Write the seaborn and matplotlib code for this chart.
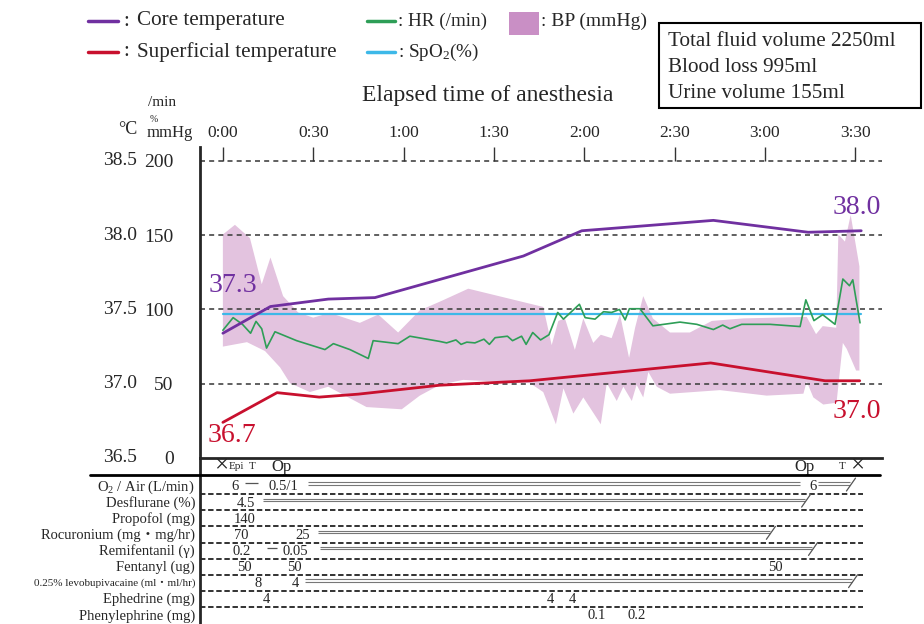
import numpy as np
import matplotlib.pyplot as plt
import matplotlib.transforms as mtransforms
from matplotlib.lines import Line2D
from matplotlib.patches import Rectangle
import seaborn as sns

# ---- data (time in minutes from start of anesthesia) ----
core_t = [0, 15.8, 35, 50.5, 99.8, 119.2, 162.9, 194.4, 212]
core_c = [37.34, 37.52, 37.57, 37.58, 37.86, 38.03, 38.10, 38.02, 38.03]

sup_t = [0, 18, 32, 45, 72, 102, 162, 200, 211.5]
sup_c = [36.74, 36.94, 36.91, 36.93, 36.99, 37.02, 37.14, 37.02, 37.02]

spo2_t = [0, 212]
spo2 = [97, 97]

hr_t = [0, 3.4, 6.5, 9.2, 11, 12.9, 14.5, 17.3, 24.5, 33.9, 36.7, 42.2, 48.3, 49.9,
        58.2, 62.1, 72, 74.3, 77.4, 79.1, 81, 83.7, 86.7, 88.5, 90.4, 94.5, 96.2,
        99.2, 100.7, 102.9, 105.5, 108.3, 111.2, 113.1, 118.4, 120.3, 123.6, 126.4,
        129.1, 131.7, 133.6, 135, 138.5, 142.8, 151.8, 157.4, 162.9, 166, 168.4,
        172.3, 181.7, 191.7, 193.6, 196.3, 199.2, 203.3, 205.9, 208.1, 209.2, 211.6]
hr = [86, 94.5, 90, 84, 92, 87, 74, 85, 79, 73, 77, 73, 67, 79,
      77, 82, 78.5, 77.5, 79.5, 76.5, 78, 77.5, 80, 76.5, 81, 82, 79,
      82, 76.5, 84.5, 79.5, 83, 98, 93.5, 103.5, 94.5, 93.5, 98.5,
      98, 100, 93, 100.5, 100.5, 89, 91.5, 90, 86.5, 89.5, 87,
      90, 90, 88.5, 106.5, 92.5, 96.5, 90, 120.5, 116, 120, 91]

bp_up_t = [0, 4, 9, 12.9, 15.8, 20, 25, 30, 35.5, 45.5, 51.6, 58.2, 65.4, 72.1, 81.5,
           106.4, 109.2, 111.4, 113.6, 116.9, 119.7, 123, 125.5, 129.1, 131.9, 134.9,
           136.9, 139.6, 142.8, 148.5, 155.1, 162.4, 172.9, 193.9, 197, 199.2, 203.7,
           204.4, 206.6, 208.5, 211.4]
bp_up = [150.5, 157, 148, 117, 135, 109, 98, 94.5, 97.7, 91, 96.6, 84.5, 99.4, 105.3, 114,
         101.7, 76, 92.3, 94, 72.8, 94, 77.5, 83, 80.7, 96.6, 67.4,
         87.7, 109, 94, 84.5, 84.5, 92.3, 94, 95, 83.4, 88.8, 87.7,
         150.5, 145.7, 163.6, 129]
bp_lo_t = [0, 8, 14, 19, 22.3, 28.9, 35, 47.7, 59.4, 65.4, 72.1, 79.8, 102, 106.4, 110.6,
           113.1, 116.4, 119.7, 125.5, 127.5, 130.8, 133, 135.8, 137.4, 139.6, 141.3,
           144.1, 148.5, 165.1, 180.6, 192.8, 193.9, 196.1, 199.4, 203.8, 205.9, 207.2,
           210.3, 211.4]
bp_lo = [75, 78, 72, 61, 50.4, 44.4, 48, 34.3, 32.8, 42, 49.3, 52.6, 50.4, 44.4, 22.7,
         46.9, 29.9, 40.8, 22.7, 50.4, 38.4, 48, 38.4, 49.3, 40.8, 57.9,
         48, 43.3, 45.7, 42, 43.3, 51.5, 40.8, 36, 37.2, 77.5, 73.4,
         58.9, 58.9]

time_ticks = [0, 30, 60, 90, 120, 150, 180, 210]
time_labels = ["0:00", "0:30", "1:00", "1:30", "2:00", "2:30", "3:00", "3:30"]
mmhg_ticks = [0, 50, 100, 150, 200]
temp_ticks = [36.5, 37.0, 37.5, 38.0, 38.5]

events = [(-0.5, "×"), (4.5, "Epi"), (9.8, "T"), (19.6, "Op"),
          (193, "Op"), (205.6, "T"), (210.6, "×")]

rows = ["O$_2$ / Air (L/min)", "Desflurane (%)", "Propofol (mg)",
        "Rocuronium (mg・mg/hr)", "Remifentanil (γ)", "Fentanyl (ug)",
        "0.25% levobupivacaine (ml・ml/hr)", "Ephedrine (mg)", "Phenylephrine (mg)"]
doses = [(0, 4, "6"), (0, 20, "0.5/1"), (0, 196, "6"),
         (1, 7.6, "4.5"), (2, 7.3, "140"),
         (3, 6, "70"), (3, 26.6, "25"),
         (4, 6.3, "0.2"), (4, 24, "0.05"),
         (5, 7.3, "50"), (5, 23.6, "50"), (5, 183.4, "50"),
         (6, 11.8, "8"), (6, 24, "4"),
         (7, 14.6, "4"), (7, 108.6, "4"), (7, 116, "4"),
         (8, 124.3, "0.1"), (8, 137.5, "0.2")]
# continuous administration: row, start, end, stopped
infusions = [(0, 28.2, 191.7, False), (0, 197.7, 208.3, True), (1, 13.3, 193.4, True),
             (3, 31.6, 181.7, True), (4, 32.2, 195.7, True), (6, 27.2, 209, True)]
changes = [(0, 7.3, 11.6), (4, 14.6, 18)]

purple = "#7030a0"
red = "#c8102e"
green = "#2e9e57"
blue = "#3db8e8"
pink = "#e3c3df"

sns.set_style("white")
plt.rcParams["font.family"] = ["Liberation Serif", "Noto Sans CJK JP"]
plt.rcParams["mathtext.default"] = "regular"

W, H = 924, 624
fig = plt.figure(figsize=(W / 100, H / 100), dpi=100)


def fx(x):
    return x / W


def fy(y):
    return 1 - y / H


xlim = (-7.6, 218.9)

# ---- drug table (drawn first so the chart's bottom line sits on top) ----
ax2 = fig.add_axes([fx(200), 0, fx(882) - fx(200), fy(458)])
ax2.set_facecolor("none")
ax2.set_xlim(*xlim)
ax2.set_ylim(8.51, -1.80)
for s in ["top", "right", "bottom"]:
    ax2.spines[s].set_visible(False)
ax2.spines["left"].set_linewidth(2)
ax2.set_xticks([])
ax2.set_yticks([])

ax2.hlines([r + 0.45 for r in range(len(rows) - 1)], xlim[0], 212.6, colors="#222222",
           linestyles=(0, (3, 1.5)), lw=1.3)

trans2 = mtransforms.blended_transform_factory(fig.transFigure, ax2.transData)
for i, name in enumerate(rows):
    fs = 8 if "levobupivacaine" in name else 10.5
    ax2.text(fx(195), i, name, transform=trans2, ha="right", va="center", fontsize=fs)

for t, lab in events:
    fs = 8 if lab in ("Epi", "T") else (18 if lab == "×" else 12)
    ax2.text(t, -1.26, lab, ha="center", va="center", fontsize=fs)

for r, t, lab in doses:
    ax2.text(t, r, lab, ha="center", va="center", fontsize=10.5)

for r, t0, t1, stop in infusions:
    ax2.hlines([r - 0.28, r - 0.12], t0, t1, colors="#777777", lw=0.8)
    if stop:
        ax2.plot([t1 - 1.2, t1 + 1.8], [r + 0.25, r - 0.55], color="#555555", lw=0.9)

for r, t0, t1 in changes:
    ax2.hlines(r - 0.22, t0, t1, colors="#555555", lw=0.9)

# ---- main chart ----
ax = fig.add_axes([fx(200), fy(458), fx(882) - fx(200), fy(147) - fy(458)])
ax.set_facecolor("none")
ax.set_xlim(*xlim)
ax.set_ylim(0, 209.4)

ax.fill(np.r_[bp_up_t, bp_lo_t[::-1]], np.r_[bp_up, bp_lo[::-1]], color=pink, lw=0, zorder=1)
ax.hlines(mmhg_ticks[1:], xlim[0], xlim[1], colors="#444444", linestyles=(0, (3, 2.5)),
          lw=1.2, zorder=2)
ax.vlines(time_ticks, 200, 209.4, colors="#333333", lw=1, zorder=2)

sns.lineplot(x=spo2_t, y=spo2, ax=ax, color=blue, lw=1.6, zorder=3)
sns.lineplot(x=hr_t, y=hr, ax=ax, color=green, lw=1.2, estimator=None, zorder=4)
sns.lineplot(x=sup_t, y=[(c - 36.5) * 100 for c in sup_c], ax=ax, color=red, lw=2,
             estimator=None, zorder=5)
sns.lineplot(x=core_t, y=[(c - 36.5) * 100 for c in core_c], ax=ax, color=purple, lw=2,
             estimator=None, zorder=5)

ax.text(3.3, 116, f"{core_c[0]:.1f}", color=purple, fontsize=20, ha="center", va="center")
ax.text(210.6, 169, f"{core_c[-1]:.1f}", color=purple, fontsize=20, ha="center", va="center")
ax.text(3, 15, f"{sup_c[0]:.1f}", color=red, fontsize=20, ha="center", va="center")
ax.text(210.6, 31, f"{sup_c[-1]:.1f}", color=red, fontsize=20, ha="center", va="center")

ax.set_yticks(mmhg_ticks)
ax.set_yticklabels([str(v) for v in mmhg_ticks], fontsize=14)
ax.tick_params(axis="y", length=11, width=1.5, pad=8, direction="out")
ax.set_xticks(time_ticks)
ax.set_xticklabels(time_labels, fontsize=12.5)
ax.xaxis.tick_top()
ax.tick_params(axis="x", length=0, pad=4)
for s in ["top", "right"]:
    ax.spines[s].set_visible(False)
ax.spines["left"].set_linewidth(2)
ax.spines["bottom"].set_linewidth(2)
ax.set_xlabel("")
ax.set_ylabel("")

trans = mtransforms.blended_transform_factory(fig.transFigure, ax.transData)
for t in temp_ticks:
    ax.text(fx(137), (t - 36.5) * 100, f"{t:.1f}", transform=trans, ha="right",
            va="center", fontsize=14)

fig.add_artist(Line2D([fx(90), fx(880)], [fy(475), fy(475)], color="black", lw=2))

# ---- legend ----
for y, col, name in [(21, purple, "Core temperature"), (52, red, "Superficial temperature")]:
    fig.add_artist(Line2D([fx(88), fx(118)], [fy(y), fy(y)], color=col, lw=2.5))
    fig.text(fx(123), fy(y), ":", fontsize=15, va="center")
    fig.text(fx(137), fy(y), name, fontsize=15.2, va="center")
for y, col, name in [(21, green, ": HR (/min)"), (52, blue, ": SpO$_2$(%)")]:
    fig.add_artist(Line2D([fx(367), fx(395)], [fy(y), fy(y)], color=col, lw=2.5))
    fig.text(fx(398), fy(y), name, fontsize=13.8, va="center")
fig.add_artist(Rectangle((fx(509), fy(35)), fx(30), fy(12) - fy(35), color="#c98fc5",
                         lw=0, transform=fig.transFigure))
fig.text(fx(541), fy(21), ": BP (mmHg)", fontsize=14, va="center")

fig.add_artist(Rectangle((fx(659), fy(108)), fx(262), fy(23) - fy(108), fill=False,
                         edgecolor="black", lw=1.5, transform=fig.transFigure))
for y, line in [(42, "Total fluid volume 2250ml"), (68, "Blood loss 995ml"),
                (93, "Urine volume 155ml")]:
    fig.text(fx(668), fy(y), line, fontsize=15.2, va="center")

fig.text(fx(488), fy(96), "Elapsed time of anesthesia", fontsize=17, ha="center",
         va="center")
fig.text(fx(148), fy(103), "/min", fontsize=11, va="center")
fig.text(fx(150), fy(119), "%", fontsize=7, va="center")
fig.text(fx(147), fy(133), "mmHg", fontsize=12, va="center")
fig.text(fx(118), fy(130), "°C", fontsize=13, va="center")

fig.savefig("out.png", dpi=100)
